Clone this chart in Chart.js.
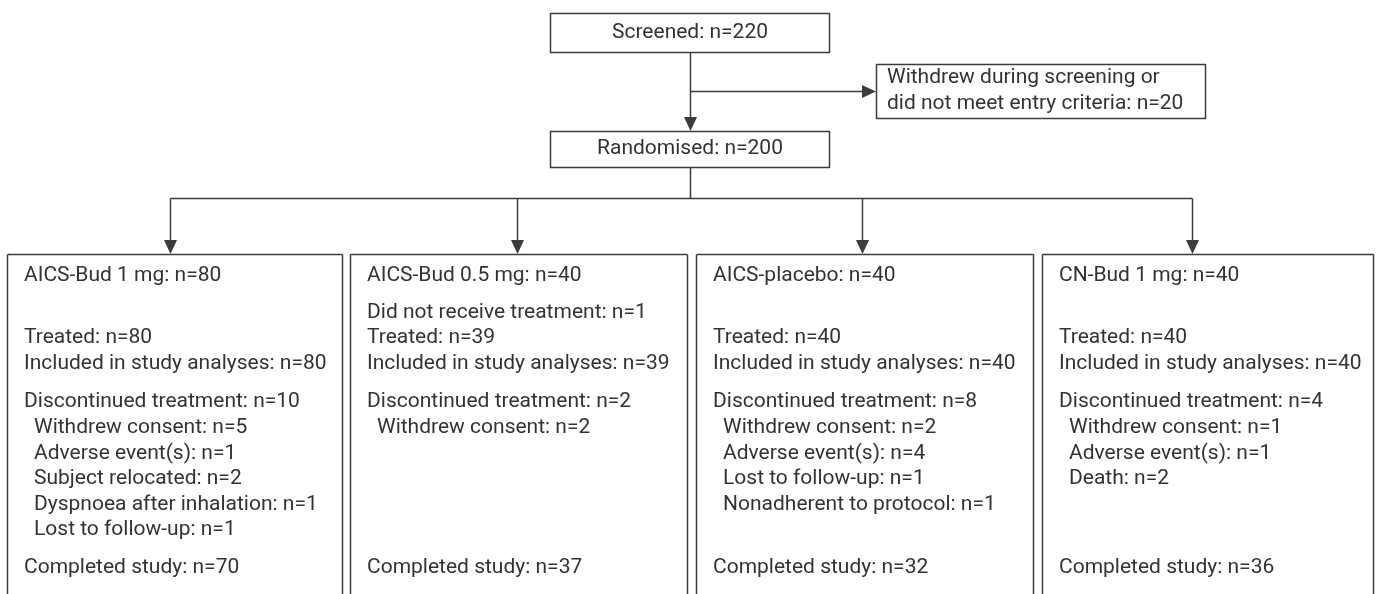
<!DOCTYPE html>
<html>
<head>
<meta charset="utf-8">
<script src="https://cdn.jsdelivr.net/npm/chart.js@4"></script>
<style>
  html, body { margin: 0; padding: 0; background: #fff; }
  #wrap { width: 1379px; height: 594px; }
</style>
</head>
<body>
<div id="wrap"><canvas id="flow" width="1379" height="594"></canvas></div>
<script>
// flow text
const screened = 'Screened: n=220';
const randomised = 'Randomised: n=200';
const excluded = ['Withdrew during screening or', 'did not meet entry criteria: n=20'];

const arms = ['AICS-Bud 1 mg: n=80', 'AICS-Bud 0.5 mg: n=40', 'AICS-placebo: n=40', 'CN-Bud 1 mg: n=40'];
const notReceived = ['', 'Did not receive treatment: n=1', '', ''];
const treated = [80, 39, 40, 40];
const analysed = [80, 39, 40, 40];
const discontinued = [10, 2, 8, 4];
const reasons = [
    ['Withdrew consent: n=5', 'Adverse event(s): n=1', 'Subject relocated: n=2', 'Dyspnoea after inhalation: n=1', 'Lost to follow-up: n=1'],
    ['Withdrew consent: n=2'],
    ['Withdrew consent: n=2', 'Adverse event(s): n=4', 'Lost to follow-up: n=1', 'Nonadherent to protocol: n=1'],
    ['Withdrew consent: n=1', 'Adverse event(s): n=1', 'Death: n=2']
];
const completed = [70, 37, 32, 36];

// layout (in chart units, x 0..1379, y 0..594 top-down)
const armBoxes = [[7, 342], [350, 687], [696, 1033], [1042, 1373]];
const armArrowX = [170, 517, 862, 1192];
const LINE = '#3c3c3c';
const TEXT = '#333';
const FONT = '21px Roboto, "DejaVu Sans", sans-serif';

function flowPlugin() {
    return {
        id: 'flow',
        afterDraw(chart) {
            const c = chart.ctx;
            const sx = v => chart.scales.x.getPixelForValue(v);
            const sy = v => chart.scales.y.getPixelForValue(v);

            c.save();
            c.strokeStyle = LINE;
            c.fillStyle = TEXT;
            c.lineWidth = 1.5;
            c.font = FONT;
            c.textBaseline = 'middle';

            function rect(x0, y0, x1, y1) {
                c.strokeRect(sx(x0) + 0.5, sy(y0) + 0.5, sx(x1) - sx(x0), sy(y1) - sy(y0));
            }
            function line(x0, y0, x1, y1) {
                c.beginPath();
                c.moveTo(sx(x0) + 0.5, sy(y0) + 0.5);
                c.lineTo(sx(x1) + 0.5, sy(y1) + 0.5);
                c.stroke();
            }
            function arrowDown(x, y0, y1) {
                line(x, y0, x, y1 - 10);
                c.beginPath();
                c.moveTo(sx(x) + 0.5, sy(y1));
                c.lineTo(sx(x) - 6, sy(y1) - 14);
                c.lineTo(sx(x) + 7, sy(y1) - 14);
                c.closePath();
                c.fillStyle = LINE;
                c.fill();
                c.fillStyle = TEXT;
            }
            function arrowRight(x0, x1, y) {
                line(x0, y, x1 - 10, y);
                c.beginPath();
                c.moveTo(sx(x1), sy(y) + 0.5);
                c.lineTo(sx(x1) - 14, sy(y) - 6);
                c.lineTo(sx(x1) - 14, sy(y) + 7);
                c.closePath();
                c.fillStyle = LINE;
                c.fill();
                c.fillStyle = TEXT;
            }
            function text(s, x, y, align) {
                c.textAlign = align || 'left';
                c.fillText(s, sx(x), sy(y));
            }

            // top part
            rect(550, 13, 829, 52);
            text(screened, 690, 33, 'center');
            arrowDown(690, 52, 131);
            arrowRight(690, 876, 91);
            rect(876, 64, 1205, 118);
            text(excluded[0], 887, 78);
            text(excluded[1], 887, 104);
            rect(550, 131, 829, 167);
            text(randomised, 690, 149, 'center');

            // branches
            line(690, 167, 690, 198);
            line(armArrowX[0], 198, armArrowX[3], 198);
            armArrowX.forEach(x => arrowDown(x, 198, 254));

            // arm boxes
            arms.forEach((name, i) => {
                const [l, r] = armBoxes[i];
                line(l, 254, r, 254);
                line(l, 254, l, 600);
                line(r, 254, r, 600);
                const tx = l + 17;
                text(name, tx, 276);
                if (notReceived[i]) text(notReceived[i], tx, 313);
                text('Treated: n=' + treated[i], tx, 338);
                text('Included in study analyses: n=' + analysed[i], tx, 364);
                text('Discontinued treatment: n=' + discontinued[i], tx, 402);
                reasons[i].forEach((s, k) => text(s, tx + 10, 428 + 25.5 * k));
                text('Completed study: n=' + completed[i], tx, 568);
            });
            c.restore();
        }
    };
}

new Chart(document.getElementById('flow').getContext('2d'), {
    type: 'scatter',
    data: { datasets: [{ data: [], pointRadius: 0 }] },
    options: {
        responsive: false,
        animation: false,
        devicePixelRatio: 1,
        layout: { padding: 0 },
        plugins: { legend: { display: false }, tooltip: { enabled: false } },
        scales: {
            x: { display: false, min: 0, max: 1379 },
            y: { display: false, min: 0, max: 594, reverse: true }
        }
    },
    plugins: [flowPlugin()]
});
</script>
</body>
</html>
